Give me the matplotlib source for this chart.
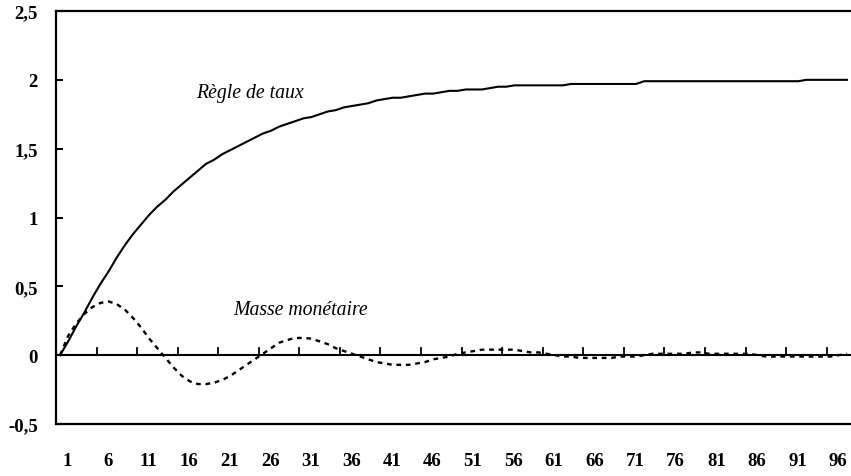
import matplotlib
matplotlib.use("Agg")
import matplotlib.pyplot as plt

periods = list(range(1, 99))
regle_taux = [0.00, 0.10, 0.21, 0.31, 0.42, 0.52, 0.61, 0.71, 0.80, 0.88,
              0.95, 1.02, 1.08, 1.13, 1.19, 1.24, 1.29, 1.34, 1.39, 1.42,
              1.46, 1.49, 1.52, 1.55, 1.58, 1.61, 1.63, 1.66, 1.68, 1.70,
              1.72, 1.73, 1.75, 1.77, 1.78, 1.80, 1.81, 1.82, 1.83, 1.85,
              1.86, 1.87, 1.87, 1.88, 1.89, 1.90, 1.90, 1.91, 1.92, 1.92,
              1.93, 1.93, 1.93, 1.94, 1.95, 1.95, 1.96, 1.96, 1.96, 1.96,
              1.96, 1.96, 1.96, 1.97, 1.97, 1.97, 1.97, 1.97, 1.97, 1.97,
              1.97, 1.97, 1.99, 1.99, 1.99, 1.99, 1.99, 1.99, 1.99, 1.99,
              1.99, 1.99, 1.99, 1.99, 1.99, 1.99, 1.99, 1.99, 1.99, 1.99,
              1.99, 1.99, 2.00, 2.00, 2.00, 2.00, 2.00, 2.00]
masse_monetaire = [0.00, 0.14, 0.23, 0.30, 0.35, 0.38, 0.39, 0.37, 0.33, 0.27,
                   0.20, 0.12, 0.05, -0.02, -0.09, -0.15, -0.19, -0.21, -0.21, -0.20,
                   -0.18, -0.15, -0.11, -0.07, -0.03, 0.01, 0.05, 0.09, 0.11, 0.125,
                   0.125, 0.12, 0.10, 0.08, 0.05, 0.03, 0.01, -0.01, -0.03, -0.05,
                   -0.06, -0.07, -0.07, -0.07, -0.06, -0.05, -0.03, -0.02, -0.01, 0.01,
                   0.02, 0.03, 0.04, 0.04, 0.04, 0.04, 0.04, 0.03, 0.02, 0.02,
                   0.01, 0.00, -0.01, -0.01, -0.02, -0.02, -0.02, -0.02, -0.02, -0.01,
                   -0.01, -0.01, 0.00, 0.01, 0.01, 0.01, 0.01, 0.01, 0.02, 0.02,
                   0.01, 0.01, 0.01, 0.01, 0.01, 0.01, 0.00, -0.01, -0.01, -0.01,
                   -0.01, -0.01, -0.01, -0.01, -0.01, -0.01, 0.00, 0.01]
x_labels = [str(v) for v in range(1, 97, 5)]
y_ticks = [-0.5, 0, 0.5, 1, 1.5, 2, 2.5]
y_labels = ["-0,5", "0", "0,5", "1", "1,5", "2", "2,5"]

W, H = 851, 477
fig = plt.figure(figsize=(W / 100, H / 100), dpi=100)
ax = fig.add_axes([56 / W, 1 - 425 / H, (W - 56) / W, (425 - 12) / H])

ax.plot(periods, regle_taux, color="black", lw=1.5, solid_joinstyle="round")
ax.plot(periods, masse_monetaire, color="black", lw=1.7, linestyle=(0, (2.0, 2.0)))
ax.axhline(0, color="black", lw=1.5, zorder=1)

ax.set_xlim(0.5, 98.5)
ax.set_ylim(-0.5, 2.5)

# tick marks on the zero line (category boundaries every 5)
for b in range(5, 96, 5):
    ax.plot([b + 0.5, b + 0.5], [0, 0.05], color="black", lw=1.3, zorder=2)

tick_font = dict(family="Liberation Serif", weight="bold", size=13.5)
ax.set_yticks(y_ticks)
ax.set_yticklabels(y_labels, **tick_font)
ax.tick_params(axis="y", direction="in", length=5, width=1.5, pad=13)
ax.set_xticks([int(v) + 0.9 for v in x_labels])
ax.set_xticklabels(x_labels, **tick_font)
ax.tick_params(axis="x", length=0, pad=20)

for s in ["left", "top", "bottom"]:
    ax.spines[s].set_linewidth(1.6)
ax.spines["right"].set_visible(False)

txt_font = dict(family="Liberation Serif", style="italic", size=14.2)
ax.text(24.4, 1.91, "Règle de taux", ha="center", va="center", **txt_font)
ax.text(30.6, 0.33, "Masse monétaire", ha="center", va="center", **txt_font)

fig.savefig("out.png", dpi=100)
